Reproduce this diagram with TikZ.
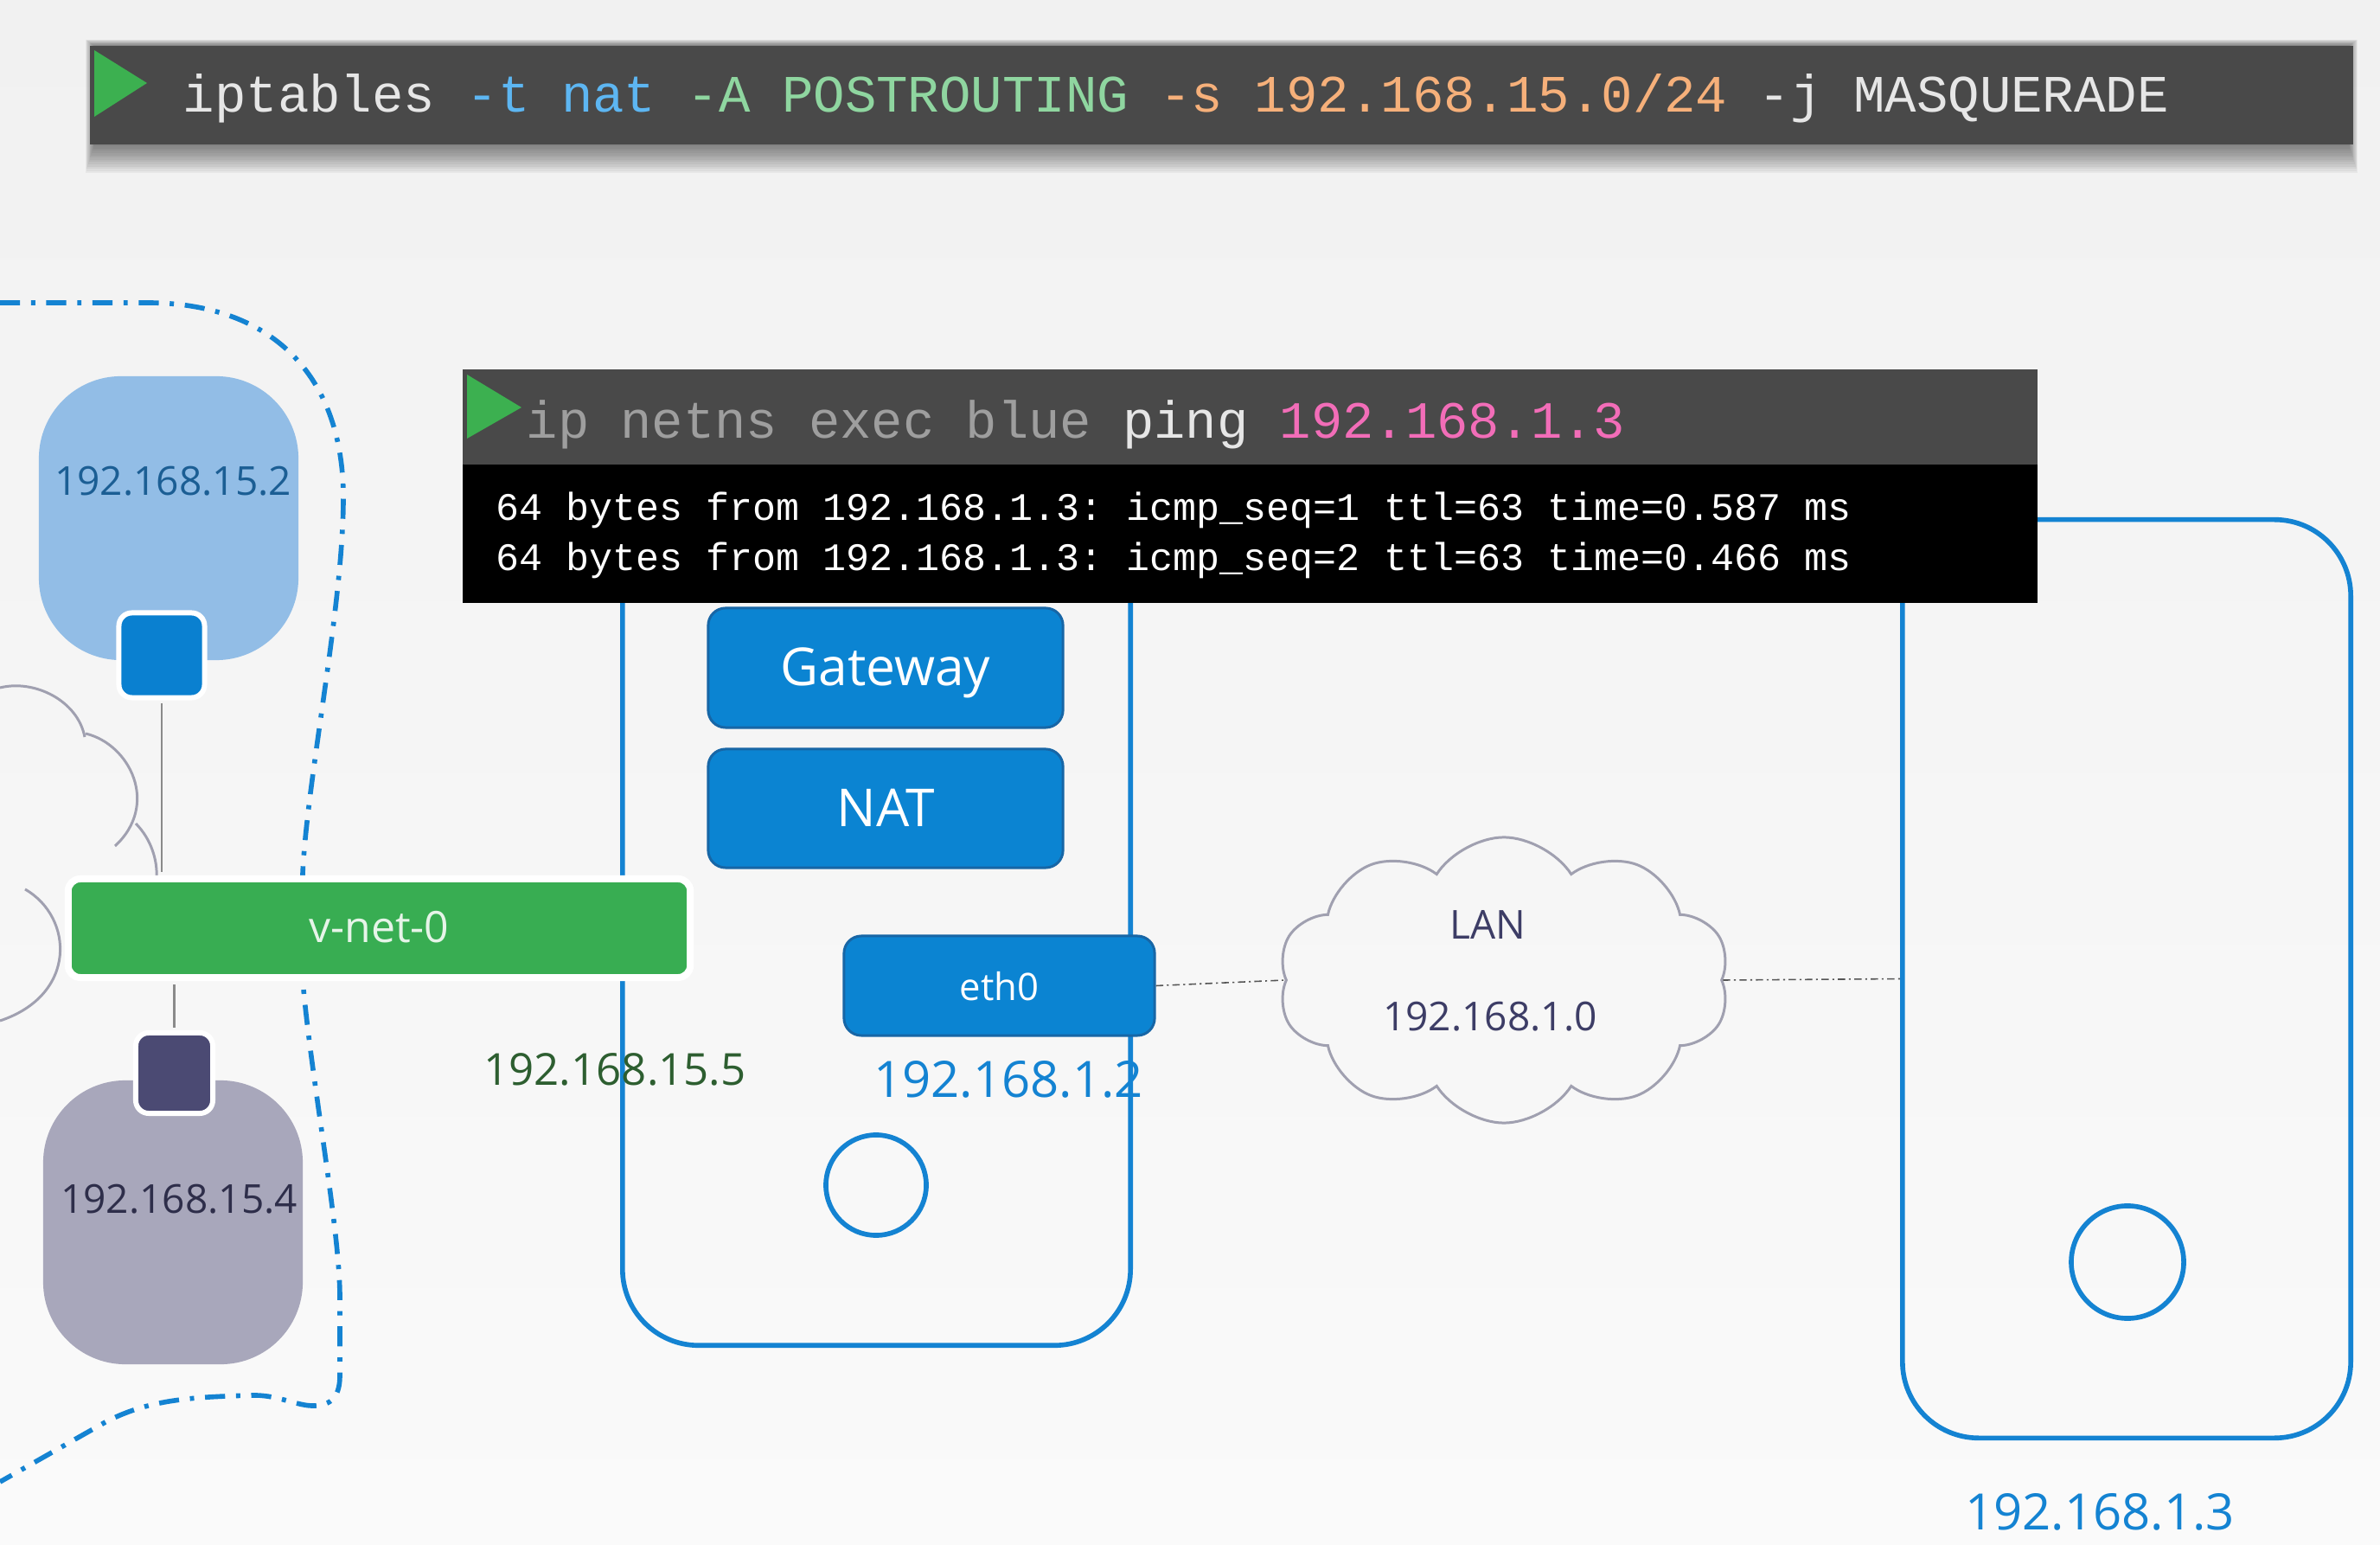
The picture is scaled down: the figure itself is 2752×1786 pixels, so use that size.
\documentclass[tikz,border=0pt]{standalone}
\usepackage{fontspec}
\setmainfont{Open Sans}
\newfontfamily\termfont{Liberation Mono}
\usetikzlibrary{shapes.symbols,calc}

\definecolor{bgtop}{HTML}{F1F1F1}
\definecolor{bgbot}{HTML}{FAFAFA}
\definecolor{termgray}{HTML}{494949}
\definecolor{nsblue}{HTML}{1483D2}
\definecolor{boxblue}{HTML}{0B84D2}
\definecolor{boxedge}{HTML}{1766A6}
\definecolor{vgreen}{HTML}{38AD52}
\definecolor{vtext}{HTML}{E6F4E8}
\definecolor{podblue}{HTML}{92BDE6}
\definecolor{podgray}{HTML}{A8A7BB}
\definecolor{ifblue}{HTML}{0A80D0}
\definecolor{ifpurple}{HTML}{4B4A73}
\definecolor{wiregray}{HTML}{8A8A8A}
\definecolor{cloudgray}{HTML}{A0A0B0}
\definecolor{lantext}{HTML}{3D3D66}
\definecolor{podbluetext}{HTML}{1B5E94}
\definecolor{podgraytext}{HTML}{2E2E4A}
\definecolor{bridgetext}{HTML}{2D5E30}
\definecolor{playgreen}{HTML}{3CB050}
\definecolor{cmdwhite}{HTML}{E6E6E6}
\definecolor{cmdblue}{HTML}{5DB6F2}
\definecolor{cmdgreen}{HTML}{8FD6A0}
\definecolor{cmdorange}{HTML}{F6B07A}
\definecolor{cmddim}{HTML}{9E9E9E}
\definecolor{cmdpink}{HTML}{F26DB8}
\definecolor{lanline}{HTML}{555555}

\newcommand\sz[1]{\fontsize{#1}{#1}\selectfont}

\tikzset{
  txt/.style={inner sep=0pt, anchor=base},
  nsline/.style={draw=nsblue, line width=1.6pt,
    dash pattern=on 6.6pt off 3.6pt on 1.4pt off 3.6pt},
  lanlink/.style={draw=lanline, line width=0.45pt,
    dash pattern=on 2.4pt off 1.2pt on 0.6pt off 1.2pt},
  hostbox/.style={draw=nsblue, line width=1.6pt, rounded corners=0.88cm,
    inner sep=0pt},
  funcbox/.style={fill=boxblue, draw=boxedge, line width=0.85pt,
    rounded corners=0.2cm, inner sep=0pt},
  pod/.style={rounded corners=0.95cm, inner sep=0pt,
    minimum width=3cm, minimum height=3.28cm},
  iface/.style={draw=white, line width=1.7pt, rounded corners=0.15cm,
    inner sep=0pt},
  wireline/.style={draw=wiregray, line width=0.85pt},
  cloudline/.style={draw=cloudgray, line width=0.85pt},
  button/.style={circle, draw=nsblue, line width=1.6pt, inner sep=0pt},
  termbar/.style={fill=termgray, inner sep=0pt},
}

\begin{document}
\frenchspacing
\begin{tikzpicture}[x=0.01cm, y=-0.01cm]
% page and backdrop
\useasboundingbox (0,0) rectangle (2752,1786);
\shade[top color=bgtop, bottom color=bgbot] (0,0) rectangle (2752,1786);

% namespace boundary around the pods
\draw[nsline] (0,350) -- (170,350)
  .. controls (320,350) and (397,440) .. (397,575)
  .. controls (397,700) and (355,900) .. (350,1010)
  -- (350,1133)
  .. controls (360,1250) and (393,1420) .. (393,1500)
  -- (393,1590)
  .. controls (393,1612) and (385,1626) .. (360,1625)
  .. controls (340,1624) and (320,1612) .. (290,1613)
  .. controls (220,1615) and (170,1618) .. (120,1645)
  -- (0,1713);

% cloud edge peeking in from the left
\draw[cloudline] (0,795) .. controls (40,785) and (90,810) .. (98,852);
\draw[cloudline] (99,848) .. controls (150,860) and (185,930) .. (133,978);
\draw[cloudline] (157,952) .. controls (175,970) and (182,995) .. (181,1013);
\draw[cloudline] (29,1028) .. controls (85,1060) and (90,1150) .. (0,1180);

% hosts
\node[hostbox, minimum width=5.87cm, minimum height=9.53cm] (router) at (1013.5,1078.5) {};
\node[hostbox, minimum width=5.18cm, minimum height=10.61cm] (host) at (2459,1131.5) {};
\node[button, minimum size=1.16cm] (rbtn) at (1013,1370) {};
\node[button, minimum size=1.30cm] (hbtn) at (2460,1459) {};

% router functions
\node[funcbox, minimum width=4.10cm, minimum height=1.38cm] (gw) at (1024,772) {};
\node[txt, text=white] at (1024,793) {\sz{17.2pt}Gateway};
\node[funcbox, minimum width=4.10cm, minimum height=1.37cm] (nat) at (1024,934.5) {};
\node[txt, text=white] at (1024,956) {\sz{17.2pt}NAT};
\node[funcbox, minimum width=3.59cm, minimum height=1.15cm] (eth0) at (1155.5,1139.5) {};
\node[txt, text=white] at (1155.5,1156) {\sz{12.4pt}eth0};

% LAN
\node[cloud, cloud puffs=10, cloud puff arc=115, aspect=1.58, cloudline,
      minimum width=5.22cm, minimum height=3.3cm, inner sep=0pt] (lan) at (1739,1133) {};
\node[txt, text=lantext] at (1720,1085) {\sz{13.1pt}LAN};
\node[txt, text=lantext] at (1723,1191) {\sz{13.1pt}192.168.1.0};
\draw[lanlink] (eth0.east) -- (lan.west);
\draw[lanlink] (lan.east) -- (host.west);

% pods and their interfaces
\node[pod, fill=podblue] (blue) at (195,599) {};
\node[txt, text=podbluetext] at (200,573) {\sz{13.1pt}192.168.15.2};
\node[pod, fill=podgray] (gray) at (200,1413) {};
\node[txt, text=podgraytext] at (207,1402) {\sz{13.1pt}192.168.15.4};
\node[iface, fill=ifblue, minimum width=0.99cm, minimum height=0.98cm] (ifa) at (187,757.5) {};
\node[iface, fill=ifpurple, minimum width=0.89cm, minimum height=0.93cm] (ifb) at (201.5,1240.5) {};

% bridge
\node[fill=vgreen, draw=white, line width=2.28pt, rounded corners=0.14cm,
      minimum width=7.19cm, minimum height=1.14cm, inner sep=0pt] (vnet) at (438.5,1073) {};
\node[txt, text=vtext] at (438.5,1090) {\sz{14.2pt}v-net-0};

% veth wires, stopping at the white rims
\draw[wireline, shorten <=0.85pt, shorten >=1.14pt] (ifa.south) -- (ifa.south |- vnet.north);
\draw[wireline, shorten <=0.85pt, shorten >=1.14pt] (ifb.north) -- (ifb.north |- vnet.south);

% addresses
\node[txt, text=bridgetext] at (711,1254) {\sz{14.5pt}192.168.15.5};
\node[txt, text=nsblue] at (1166,1268) {\sz{16.5pt}192.168.1.2};
\node[txt, text=nsblue] at (2428,1768) {\sz{16.5pt}192.168.1.3};

% iptables command with a soft drop shadow
\foreach \i in {1,...,14} {
  \fill[black, opacity=0.045] (110-0.8*\i, 54-0.6*\i) rectangle (2715+0.8*\i, 164+2.6*\i);
}
\node[termbar, minimum width=26.15cm, minimum height=1.14cm] (cmd) at (1412.5,110) {};
\fill[playgreen] (109,58) -- (170,96) -- (109,135) -- cycle;
\node[inner sep=0pt, anchor=base west] (cmdtext) at (211,130) {\termfont\sz{17.27pt}%
  \textcolor{cmdwhite}{iptables} \textcolor{cmdblue}{-t nat} \textcolor{cmdgreen}{-A POSTROUTING} \textcolor{cmdorange}{-s 192.168.15.0/24} \textcolor{cmdwhite}{-j MASQUERADE}};

% ping terminal
\node[termbar, minimum width=18.19cm, minimum height=1.10cm] (pinghead) at (1445.5,482) {};
\node[fill=black, inner sep=0pt, minimum width=18.19cm, minimum height=1.60cm] (pingout) at (1445.5,617) {};
\fill[playgreen] (540,433) -- (603,471) -- (540,507) -- cycle;
\node[inner sep=0pt, anchor=base west] (pingcmd) at (608,507) {\termfont\sz{17.2pt}%
  \textcolor{cmddim}{ip netns exec blue} \textcolor{cmdwhite}{ping} \textcolor{cmdpink}{192.168.1.3}};
\node[inner sep=0pt, anchor=base west, text=white] (reply1) at (573,602) {\termfont\sz{12.8pt}64 bytes from 192.168.1.3: icmp\_seq=1 ttl=63 time=0.587 ms};
\node[inner sep=0pt, anchor=base west, text=white] (reply2) at (573,660) {\termfont\sz{12.8pt}64 bytes from 192.168.1.3: icmp\_seq=2 ttl=63 time=0.466 ms};
\end{tikzpicture}
\end{document}
